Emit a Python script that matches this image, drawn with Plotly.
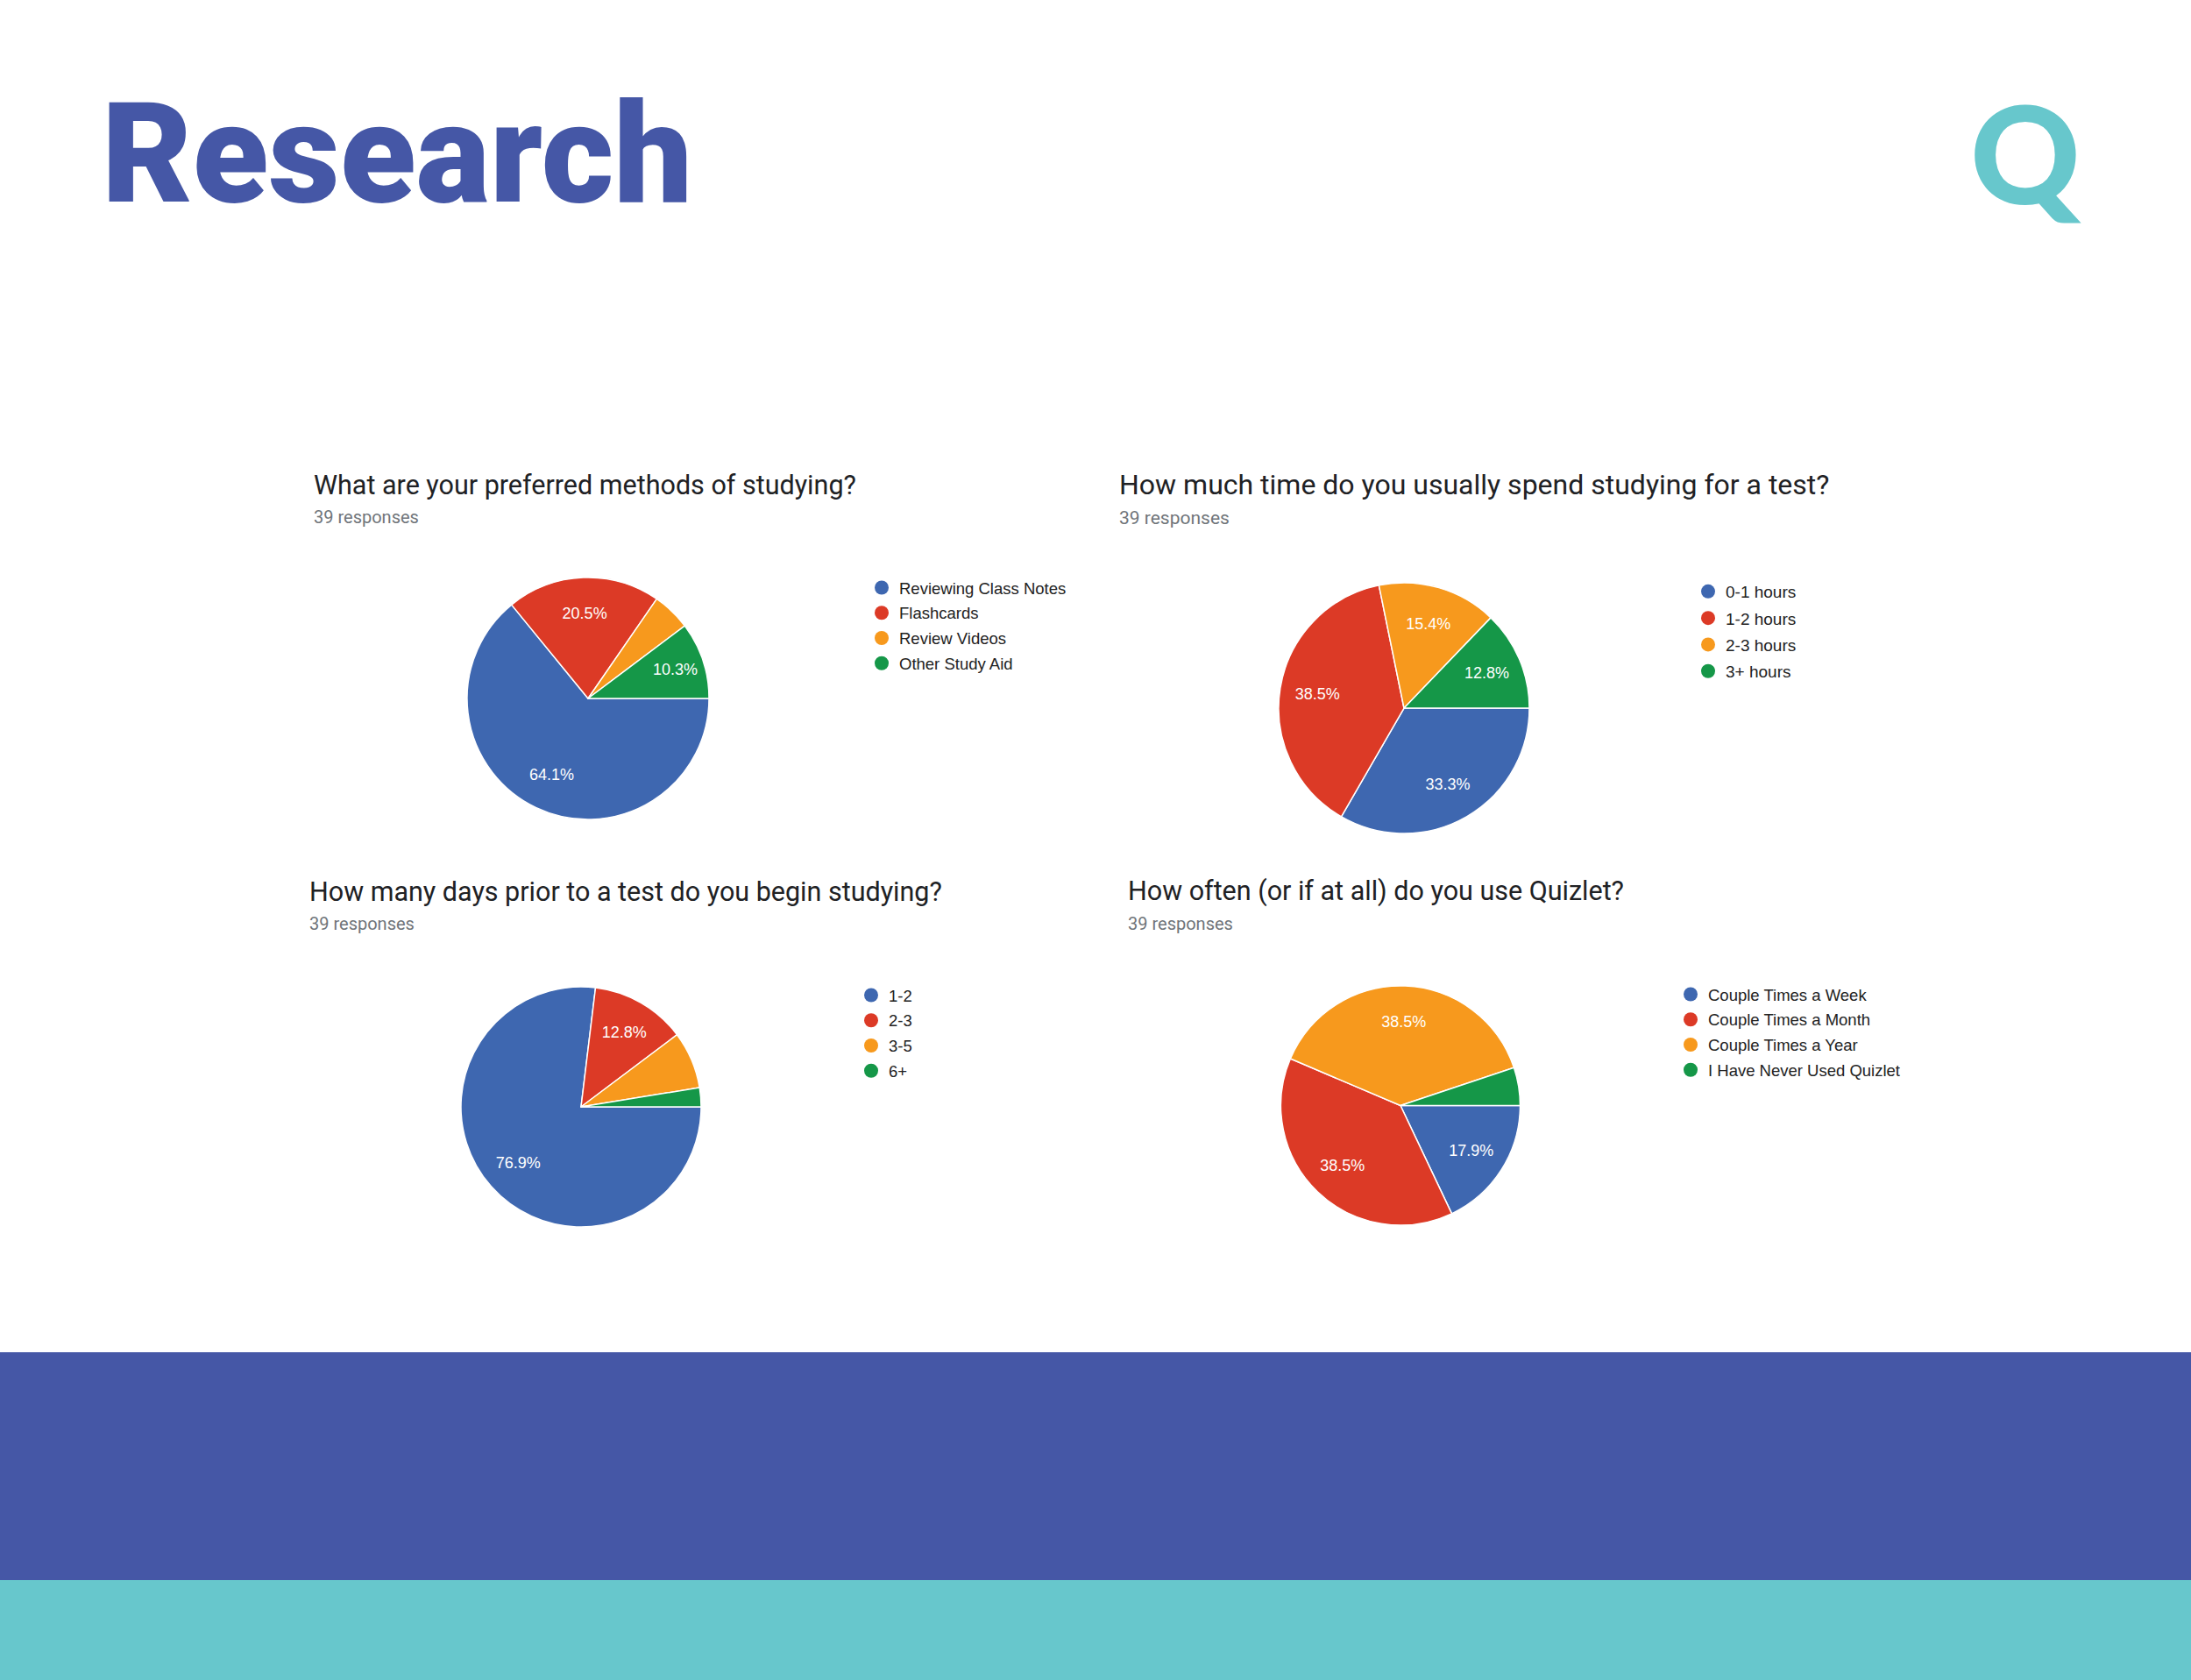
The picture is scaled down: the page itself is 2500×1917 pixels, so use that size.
import plotly.graph_objects as go

W, H = 2500, 1917

# slice colours (Google Forms palette as seen in the screenshot)
slice_colors = ['#3E67B0', '#DC3A26', '#F7991D', '#159748']
brand_blue = '#4557A6'
brand_teal = '#67C7CC'

q1_title = 'What are your preferred methods of studying?'
q1_labels = ['Reviewing Class Notes', 'Flashcards', 'Review Videos', 'Other Study Aid']
q1_counts = [25, 8, 2, 4]

q2_title = 'How much time do you usually spend studying for a test?'
q2_labels = ['0-1 hours', '1-2 hours', '2-3 hours', '3+ hours']
q2_counts = [13, 15, 6, 5]

q3_title = 'How many days prior to a test do you begin studying?'
q3_labels = ['1-2', '2-3', '3-5', '6+']
q3_counts = [30, 5, 3, 1]

q4_title = 'How often (or if at all) do you use Quizlet?'
q4_labels = ['Couple Times a Week', 'Couple Times a Month', 'Couple Times a Year', 'I Have Never Used Quizlet']
q4_counts = [7, 15, 15, 2]

responses_text = '39 responses'


def px(x):
    return x / W


def py(y):
    return 1 - y / H


# layout in page pixels: title/subtitle (x, y), pie box (x0, x1, y0, y1), legend (x, y)
# the second chart was captured a little larger in the original, hence the bigger fonts
panels = [
    dict(title=q1_title, labels=q1_labels, counts=q1_counts, tsize=30.5, ssize=20, lsize=18.5, gap=1.7,
         tpos=(356, 553), spos=(356, 590), pie=(533, 809, 659, 935), leg=(986, 652)),
    dict(title=q2_title, labels=q2_labels, counts=q2_counts, tsize=32, ssize=21, lsize=19, gap=2.6,
         tpos=(1275, 553), spos=(1275, 591), pie=(1459, 1745, 665, 951), leg=(1929, 656)),
    dict(title=q3_title, labels=q3_labels, counts=q3_counts, tsize=30.5, ssize=20, lsize=18.5, gap=1.7,
         tpos=(351, 1017), spos=(351, 1054), pie=(526, 800, 1126, 1400), leg=(974, 1117)),
    dict(title=q4_title, labels=q4_labels, counts=q4_counts, tsize=30.5, ssize=20, lsize=18.5, gap=1.7,
         tpos=(1285, 1017), spos=(1285, 1054), pie=(1461, 1735, 1125, 1398), leg=(1909, 1116)),
]

fig = go.Figure()
annotations = []
legends = {}

for i, p in enumerate(panels):
    total = sum(p['counts'])
    pct_text = [f'{c / total * 100:.1f}%' if c / total >= 0.1 else '' for c in p['counts']]
    x0, x1, y0, y1 = p['pie']
    dom = dict(x=[px(x0), px(x1)], y=[py(y1), py(y0)])
    leg_name = 'legend' if i == 0 else f'legend{i + 1}'

    fig.add_trace(go.Pie(
        values=p['counts'],
        labels=p['labels'],
        textinfo='none',
        sort=False,
        direction='clockwise',
        rotation=90,
        marker=dict(colors=slice_colors, line=dict(color='white', width=1.5)),
        domain=dom,
        showlegend=False,
        hoverinfo='label+value+percent',
    ))
    # label layer: same slices as a transparent ring so the percentages sit
    # at ~0.7 of the radius, as in the Google Forms charts
    fig.add_trace(go.Pie(
        values=p['counts'],
        labels=p['labels'],
        text=pct_text,
        textinfo='text',
        textposition='inside',
        insidetextorientation='horizontal',
        textfont=dict(family='Liberation Sans, Arial', size=18, color='white'),
        hole=0.4,
        sort=False,
        direction='clockwise',
        rotation=90,
        marker=dict(colors=['rgba(0,0,0,0)'] * len(p['counts']), line=dict(width=0)),
        domain=dom,
        showlegend=False,
        hoverinfo='skip',
    ))

    # round legend markers like the Google Forms charts
    for j, lab in enumerate(p['labels']):
        fig.add_trace(go.Scatter(
            x=[None], y=[None], mode='markers',
            marker=dict(color=slice_colors[j], size=16, symbol='circle'),
            name=lab, legend=leg_name, legendgroup=f'{i}-{j}',
            showlegend=True, hoverinfo='skip',
        ))

    legends[leg_name] = dict(
        x=px(p['leg'][0]), y=py(p['leg'][1]), xanchor='left', yanchor='top',
        font=dict(family='Liberation Sans, Arial', size=p['lsize'], color='#222222'),
        bgcolor='rgba(0,0,0,0)', traceorder='grouped', tracegroupgap=p['gap'],
        itemwidth=30,
    )

    annotations.append(dict(
        text=p['title'], x=px(p['tpos'][0]), y=py(p['tpos'][1]),
        xref='paper', yref='paper', xanchor='left', yanchor='middle', showarrow=False,
        font=dict(family='Roboto', size=p['tsize'], color='#202124'),
    ))
    annotations.append(dict(
        text=responses_text, x=px(p['spos'][0]), y=py(p['spos'][1]),
        xref='paper', yref='paper', xanchor='left', yanchor='middle', showarrow=False,
        font=dict(family='Roboto', size=p['ssize'], color='#70757A'),
    ))

# page heading and logo
annotations.append(dict(
    text='Research', x=px(114), y=py(175), xref='paper', yref='paper',
    xanchor='left', yanchor='middle', showarrow=False,
    font=dict(family='Roboto', size=159, color=brand_blue, weight=900),
))
annotations.append(dict(
    text='Q', x=px(2246), y=py(173), xref='paper', yref='paper',
    xanchor='left', yanchor='middle', showarrow=False,
    font=dict(family='Lato', size=155, color=brand_teal, weight=900),
))

# footer bands
shapes = [
    dict(type='rect', xref='paper', yref='paper', x0=0, x1=1, y0=py(1803), y1=py(1543),
         fillcolor=brand_blue, line=dict(width=0)),
    dict(type='rect', xref='paper', yref='paper', x0=0, x1=1, y0=0, y1=py(1803),
         fillcolor=brand_teal, line=dict(width=0)),
]

fig.update_layout(
    width=W, height=H,
    margin=dict(l=0, r=0, t=0, b=0),
    paper_bgcolor='white', plot_bgcolor='white',
    xaxis=dict(visible=False, domain=[0, 0.01]),
    yaxis=dict(visible=False, domain=[0, 0.01]),
    annotations=annotations,
    shapes=shapes,
    **legends,
)

# drop the default page margin so the page bands run edge to edge
fig.write_html('out.html', config={'displayModeBar': False},
               post_script="document.body.style.margin='0';")
